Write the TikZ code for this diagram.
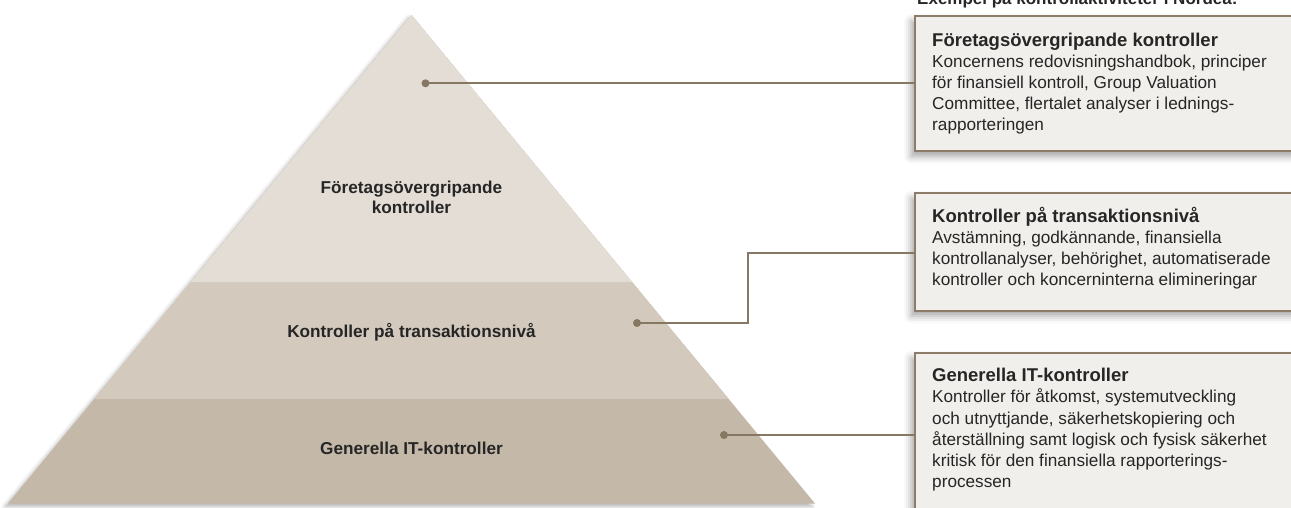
\documentclass[tikz,border=0pt]{standalone}
\usepackage{fontspec}
\setmainfont{Liberation Sans}
\usetikzlibrary{calc,shadows.blur}

\definecolor{lvlA}{HTML}{E3DDD5}
\definecolor{lvlB}{HTML}{D3CABD}
\definecolor{lvlC}{HTML}{C4B8A8}
\definecolor{linec}{HTML}{857761}
\definecolor{boxline}{HTML}{8C7C68}
\definecolor{boxfill}{HTML}{F1EFEB}
\definecolor{ink}{HTML}{262626}

\newcommand{\topstrut}{\rule{0pt}{16pt}}
\newcommand{\boxhead}[1]{{\fontsize{18.5}{21.2}\selectfont\bfseries #1}}

\begin{document}
\begin{tikzpicture}[x=1pt, y=-1pt,
    line/.style={draw=linec, line width=2pt},
    dot/.style={circle, fill=linec, inner sep=0pt, minimum size=8pt},
    infobox/.style={draw=boxline, line width=2pt, fill=boxfill, anchor=north west,
        minimum width=420pt, inner sep=0pt,
        blur shadow={shadow xshift=-4pt, shadow yshift=-5pt, shadow blur radius=7pt, shadow opacity=35}},
    boxtext/.style={anchor=north west, inner sep=0pt, align=left, text=ink,
        font=\fontsize{17.2}{21.2}\selectfont},
    lvltext/.style={text=ink, inner sep=0pt, align=center,
        font=\fontsize{17.2}{20}\selectfont\bfseries}]

            \useasboundingbox (0,0) rectangle (1291,508);

            % pyramid
            \coordinate (top) at (411.5,15);
            \coordinate (bl) at (8,503.5);
            \coordinate (br) at (815,503.5);
            \coordinate (l1) at ($(top)!0.5466!(bl)$);
            \coordinate (r1) at ($(top)!0.5466!(br)$);
            \coordinate (l2) at ($(top)!0.786!(bl)$);
            \coordinate (r2) at ($(top)!0.786!(br)$);
            \fill[lvlC, blur shadow={shadow xshift=-3pt, shadow yshift=-3pt, shadow blur radius=4pt, shadow opacity=30}] (top) -- (bl) -- (br) -- cycle;
            \fill[lvlB] (top) -- (l2) -- (r2) -- cycle;
            \fill[lvlA] (top) -- (l1) -- (r1) -- cycle;

            \node[lvltext, anchor=north] (t1) at (411.5,177.3) {\topstrut Företagsövergripande\\kontroller};
            \node[lvltext, anchor=base] (t2) at (411.5,337) {Kontroller på transaktionsnivå};
            \node[lvltext, anchor=base] (t3) at (411.5,454) {Generella IT-kontroller};

            % boxes
            \node[anchor=base west, inner sep=0pt, text=ink, font=\fontsize{17}{20}\selectfont\bfseries] (head) at (917,5) {Exempel på kontrollaktiviteter i Nordea:};
            \node[infobox, minimum height=135.5pt] (b1) at (914,15) {};
            \node[infobox, minimum height=118pt] (b2) at (914,192) {};
            \node[infobox, minimum height=190pt] (b3) at (914,352) {};

            \node[dot] (d1) at (425.5,83.3) {};
            \node[dot] (d2) at (637,323) {};
            \node[dot] (d3) at (724,435) {};
            \coordinate (k2) at (748.3,252.7);

            \draw[line] (d1.center) -- (d1 -| b1.west);
            \draw[line] (d2.center) -| (k2) -- (k2 -| b2.west);
            \draw[line] (d3.center) -- (d3 -| b3.west);

            \node[boxtext] (x1) at (932,30) {\topstrut\boxhead{Företagsövergripande kontroller}\\Koncernens redovisningshandbok, principer\\för finansiell kontroll, Group Valuation\\Committee, flertalet analyser i lednings-\\rapporteringen};
            \node[boxtext] (x2) at (932,206) {\topstrut\boxhead{Kontroller på transaktionsnivå}\\Avstämning, godkännande, finansiella\\kontrollanalyser, behörighet, automatiserade\\kontroller och koncerninterna elimineringar};
            \node[boxtext] (x3) at (932,365.5) {\topstrut\boxhead{Generella IT-kontroller}\\Kontroller för åtkomst, systemutveckling\\och utnyttjande, säkerhetskopiering och\\återställning samt logisk och fysisk säkerhet\\kritisk för den finansiella rapporterings-\\processen};
        \end{tikzpicture}
\end{document}
